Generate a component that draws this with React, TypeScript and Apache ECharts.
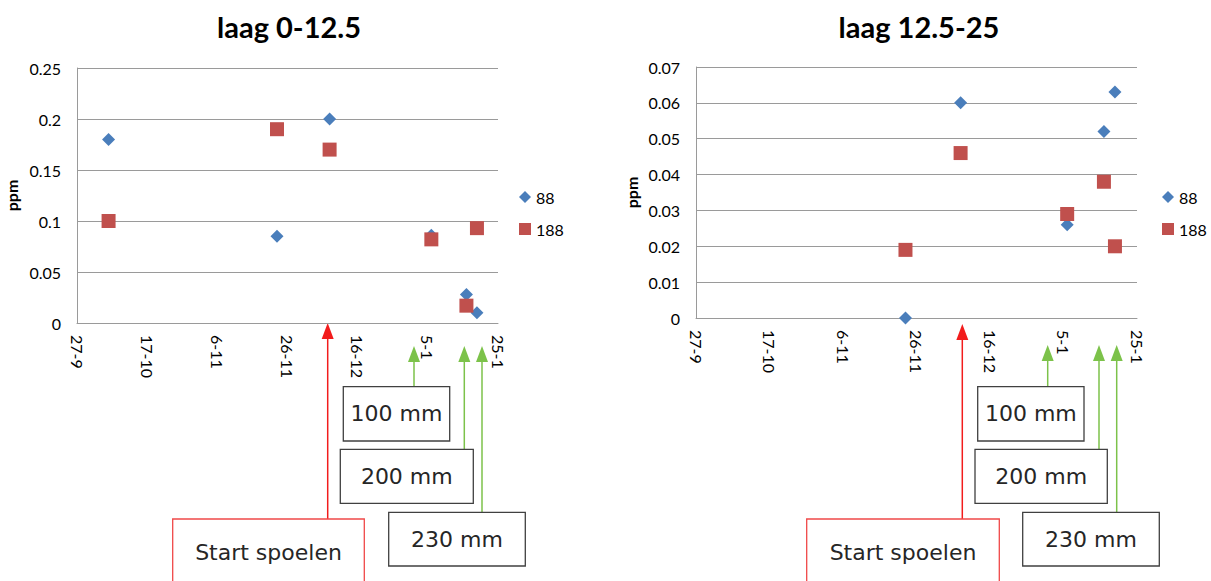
import React, { useEffect, useRef } from "react";
import * as echarts from "echarts";

const START = "2012-09-27";
const END = "2013-01-25";
const X_STEP_DAYS = 20;

const titles = ["laag 0-12.5", "laag 12.5-25"];
const seriesNames = ["88", "188"];

const datesA = ["2012-10-06", "2012-11-23", "2012-12-08", "2013-01-06", "2013-01-16", "2013-01-19"];
const valuesA88 = [0.18, 0.085, 0.2, 0.086, 0.028, 0.01];
const valuesA188 = [0.1, 0.19, 0.17, 0.082, 0.017, 0.093];

const datesB = ["2012-11-23", "2012-12-08", "2013-01-06", "2013-01-16", "2013-01-19"];
const valuesB88 = [0, 0.06, 0.026, 0.052, 0.063];
const valuesB188 = [0.019, 0.046, 0.029, 0.038, 0.02];

const yMaxA = 0.25;
const yStepA = 0.05;
const yMaxB = 0.07;
const yStepB = 0.01;

const annotationLabels = ["Start spoelen", "100 mm", "200 mm", "230 mm"];

const DAY = 86400000;
const dayOf = (d: string) => Math.round((Date.parse(d) - Date.parse(START)) / DAY);
const toPoints = (dates: string[], vals: number[]) => dates.map((d, i) => [dayOf(d), vals[i]]);
const dateLabel = (v: number) => {
  const dt = new Date(Date.parse(START) + v * DAY);
  return `${dt.getUTCDate()}-${dt.getUTCMonth() + 1}`;
};

const BLUE = "#4A7EBB";
const RED = "#C0504D";
const GRID = "#9A9A9A";
const GREEN = "#7CC24A";
const ARROW_RED = "#F21C1C";
const FONT = "Lato, 'Open Sans', sans-serif";
const BOX_FONT = "'DejaVu Sans', Verdana, sans-serif";

function arrow(x: number, tipY: number, endY: number, color: string) {
  return [
    { type: "line", shape: { x1: x, y1: tipY + 14, x2: x, y2: endY }, style: { stroke: color, lineWidth: 1.5 } },
    {
      type: "polygon",
      shape: { points: [[x, tipY], [x - 6, tipY + 16], [x + 6, tipY + 16]] },
      style: { fill: color },
    },
  ];
}

function box(x: number, y: number, w: number, h: number, label: string, stroke: string) {
  return [
    { type: "rect", shape: { x, y, width: w, height: h }, style: { fill: "#fff", stroke, lineWidth: 1.3 } },
    {
      type: "text",
      x: x + w / 2,
      y: y + (h > 60 ? 33 : h / 2),
      style: {
        text: label,
        font: `22px ${BOX_FONT}`,
        fill: "#262626",
        align: "center",
        verticalAlign: "middle",
      },
    },
  ];
}

export default function App() {
  const ref = useRef<HTMLDivElement>(null);
  useEffect(() => {
    if (!ref.current) return;
    const chart = echarts.init(ref.current, null, { renderer: "svg" });
    const xEnd = dayOf(END);

    const xAxis = (gi: number) => ({
      type: "value",
      gridIndex: gi,
      min: 0,
      max: xEnd,
      interval: X_STEP_DAYS,
      axisLine: { show: true, lineStyle: { color: GRID } },
      axisTick: { show: false },
      splitLine: { show: false },
      axisLabel: {
        rotate: -90,
        margin: 12,
        fontFamily: FONT,
        fontSize: 16,
        color: "#000",
        formatter: (v: number) => dateLabel(v),
      },
    });
    const yAxis = (gi: number, max: number, step: number, gap: number) => ({
      type: "value",
      gridIndex: gi,
      min: 0,
      max,
      interval: step,
      name: "ppm",
      nameLocation: "middle",
      nameRotate: 90,
      nameGap: gap,
      nameTextStyle: { fontFamily: FONT, fontWeight: "bold", fontSize: 16, color: "#000" },
      axisLine: { show: true, lineStyle: { color: GRID } },
      axisTick: { show: false },
      splitLine: { show: true, lineStyle: { color: GRID, width: 1 } },
      axisLabel: {
        margin: 16,
        fontFamily: FONT,
        fontSize: 16,
        color: "#000",
        formatter: (v: number) => String(parseFloat(v.toFixed(3))),
      },
    });
    const legend = (left: number) => ({
      left,
      top: 189,
      padding: 0,
      orient: "vertical",
      itemWidth: 12,
      itemHeight: 12,
      itemGap: 16,
      textStyle: { fontFamily: FONT, fontSize: 16, color: "#000" },
      data: [
        { name: seriesNames[0], icon: "diamond" },
        { name: seriesNames[1], icon: "rect" },
      ],
    });

    const graphic: any[] = [
      ...arrow(327.7, 323, 519, ARROW_RED),
      ...arrow(414, 346, 387, GREEN),
      ...arrow(464.3, 346, 449, GREEN),
      ...arrow(482, 346, 512, GREEN),
      ...box(343.3, 386.7, 106.4, 54.3, annotationLabels[1], "#404040"),
      ...box(340.3, 449.3, 133, 54, annotationLabels[2], "#404040"),
      ...box(388.7, 512.3, 136.6, 53.7, annotationLabels[3], "#404040"),
      ...box(172.7, 519, 191.6, 80, annotationLabels[0], "#F04848"),
      ...arrow(962.3, 324, 519, ARROW_RED),
      ...arrow(1047.7, 345, 387, GREEN),
      ...arrow(1099, 345, 449, GREEN),
      ...arrow(1116.7, 345, 512, GREEN),
      ...box(977.7, 386.7, 106.3, 54.3, annotationLabels[1], "#404040"),
      ...box(975, 449.3, 132.3, 54, annotationLabels[2], "#404040"),
      ...box(1022.7, 512.3, 136.6, 53.7, annotationLabels[3], "#404040"),
      ...box(806.7, 519, 192.6, 80, annotationLabels[0], "#F04848"),
    ];

    const sym = (name: string, xi: number, data: number[][]) => ({
      name,
      type: "scatter",
      xAxisIndex: xi,
      yAxisIndex: xi,
      symbol: name === seriesNames[0] ? "diamond" : "rect",
      symbolSize: name === seriesNames[0] ? 13 : 14,
      itemStyle: { color: name === seriesNames[0] ? BLUE : RED, opacity: 1 },
      data,
    });

    chart.setOption({
      animation: false,
      backgroundColor: "#fff",
      title: [
        { text: titles[0], left: 284, top: 7, textAlign: "center", textStyle: { fontFamily: FONT, fontWeight: "bold", fontSize: 29, color: "#000" } },
        { text: titles[1], left: 914, top: 7, textAlign: "center", textStyle: { fontFamily: FONT, fontWeight: "bold", fontSize: 29, color: "#000" } },
      ],
      legend: [legend(519), legend(1162)],
      grid: [
        { left: 77, top: 68, width: 421, height: 255, containLabel: false },
        { left: 696, top: 67, width: 441, height: 251, containLabel: false },
      ],
      xAxis: [xAxis(0), xAxis(1)],
      yAxis: [yAxis(0, yMaxA, yStepA, 58), yAxis(1, yMaxB, yStepB, 57)],
      series: [
        sym(seriesNames[0], 0, toPoints(datesA, valuesA88)),
        sym(seriesNames[1], 0, toPoints(datesA, valuesA188)),
        sym(seriesNames[0], 1, toPoints(datesB, valuesB88)),
        sym(seriesNames[1], 1, toPoints(datesB, valuesB188)),
      ],
      graphic,
    });
    return () => chart.dispose();
  }, []);
  return <div ref={ref} style={{ position: "fixed", left: 0, top: 0, width: 1211, height: 581 }} />;
}
